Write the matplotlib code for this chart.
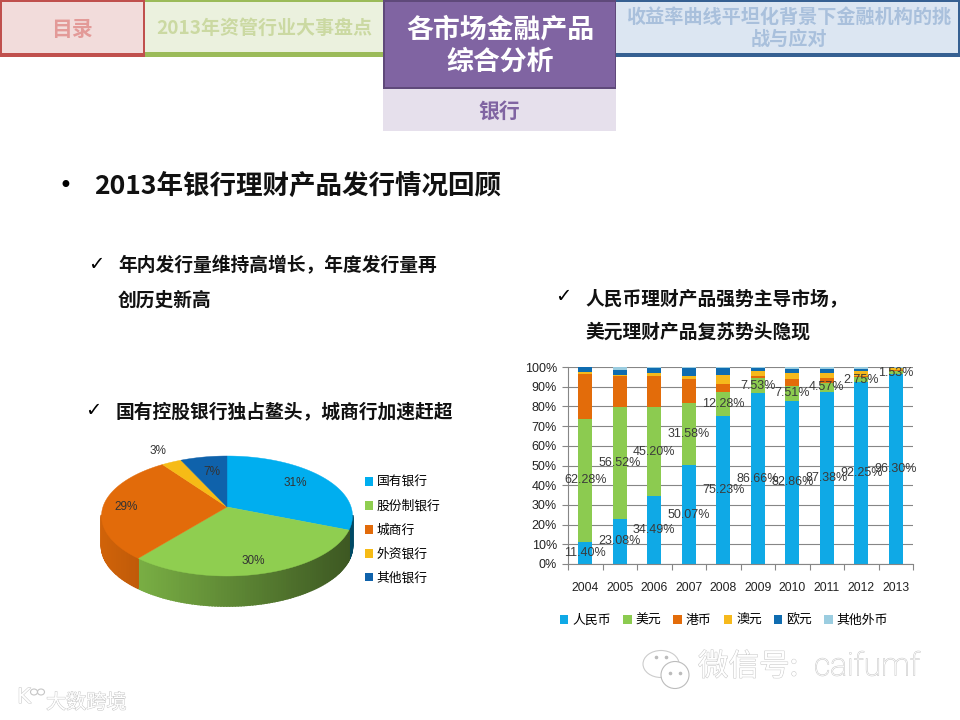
import numpy as np
import matplotlib
matplotlib.use("Agg")
import matplotlib.pyplot as plt
import matplotlib.patheffects as pe
from matplotlib.patches import Rectangle, Ellipse, Patch

CJK = ['Noto Sans CJK SC', 'DejaVu Sans']
plt.rcParams['font.family'] = CJK

W, H = 960, 720

# bar chart data
years = ['2004', '2005', '2006', '2007', '2008', '2009', '2010', '2011', '2012', '2013']
currencies = ['人民币', '美元', '港币', '澳元', '欧元', '其他外币']
rmb = [11.40, 23.08, 34.49, 50.07, 75.23, 86.66, 82.86, 87.38, 92.25, 96.30]
usd = [62.28, 56.52, 45.20, 31.58, 12.28, 7.53, 7.51, 4.57, 2.75, 1.53]
hkd = [22.8, 15.6, 15.8, 12.2, 3.9, 1.0, 3.4, 2.5, 0.3, 0.9]
aud = [0.8, 0.9, 1.4, 1.4, 4.6, 3.0, 3.4, 2.5, 2.5, 0.6]
eur = [2.7, 2.4, 2.6, 4.0, 3.4, 1.2, 1.6, 2.0, 1.2, 0.3]
other = [0.0, 1.5, 0.5, 0.8, 0.5, 0.6, 1.3, 1.0, 1.0, 0.4]
bar_colors = ['#0fa9e6', '#8ccb50', '#e36c0a', '#f6b91c', '#0f6cb0', '#9bcde0']

# pie data
banks = ['国有银行', '股份制银行', '城商行', '外资银行', '其他银行']
shares = [31, 30, 29, 3, 7]
pie_colors = ['#00aeef', '#8fce50', '#e26b0a', '#f6bb16', '#0f62ab']
pie_label_px = [(295, 483), (253, 561), (126, 507), (158, 451), (212, 472)]


def box(x0, y0, x1, y1):
    # pixels from the top left -> figure fraction
    return [x0 / W, 1 - y1 / H, (x1 - x0) / W, (y1 - y0) / H]


def shade(color, f):
    return tuple(np.array(matplotlib.colors.to_rgb(color)) * f)


fig = plt.figure(figsize=(9.6, 7.2), dpi=100, facecolor='white')

# page layer in pixel coordinates
page = fig.add_axes([0, 0, 1, 1])
page.set_xlim(0, W)
page.set_ylim(H, 0)
page.axis('off')


def rect(x0, y0, x1, y1, color):
    page.add_patch(Rectangle((x0, y0), x1 - x0, y1 - y0, facecolor=color, edgecolor='none'))


# header tabs
rect(0, 0, 145, 57, '#c0504d')
rect(2, 2, 143, 53, '#f2dcdb')
rect(145, 0, 383, 57, '#9bbb59')
rect(145, 2, 383, 52, '#ebf1de')
rect(616, 0, 960, 57, '#366092')
rect(616, 2, 958, 53, '#dce6f2')
rect(383, 0, 616, 89, '#5f497a')
rect(385, 2, 615, 87, '#8064a2')
rect(383, 89, 616, 131, '#e6e0ec')

page.text(72, 29, '目录', color='#e39a98', fontsize=15, fontweight='bold', ha='center', va='center')
page.text(264, 28, '2013年资管行业大事盘点', color='#cbd9a2', fontsize=13.7, fontweight='bold', ha='center', va='center')
page.text(500, 30, '各市场金融产品', color='white', fontsize=19.4, fontweight='bold', ha='center', va='center')
page.text(500, 62, '综合分析', color='white', fontsize=19.4, fontweight='bold', ha='center', va='center')
page.text(499, 111, '银行', color='#8064a2', fontsize=15, fontweight='bold', ha='center', va='center')
page.text(789, 17, '收益率曲线平坦化背景下金融机构的挑', color='#a9c0dc', fontsize=13.8, fontweight='bold', ha='center', va='center')
page.text(789, 39, '战与应对', color='#a9c0dc', fontsize=13.8, fontweight='bold', ha='center', va='center')

# slide text
page.text(65, 186, '•', color='black', fontsize=17, ha='center', va='center', family='DejaVu Sans')
page.text(94, 186, '2013年银行理财产品发行情况回顾', color='#111111', fontsize=19.1, fontweight='bold', va='center')

checks = [
    (96, 265, 118, '年内发行量维持高增长，年度发行量再'),
    (563, 298, 585, '人民币理财产品强势主导市场，'),
    (93, 412, 116, '国有控股银行独占鳌头，城商行加速赶超'),
]
for cx, cy, tx, label in checks:
    page.text(cx, cy - 1, '✓', color='black', fontsize=14, fontweight='bold', ha='center', va='center', family='DejaVu Sans')
    page.text(tx, cy + 1, label, color='#111111', fontsize=13.5, fontweight='bold', va='center')
page.text(118, 300, '创历史新高', color='#111111', fontsize=13.5, fontweight='bold', va='center')
page.text(585, 332, '美元理财产品复苏势头隐现', color='#111111', fontsize=13.5, fontweight='bold', va='center')

# watermarks
outline = [pe.withStroke(linewidth=0.7, foreground='#c6c6c6')]
page.text(698, 667, '微信号:', color='white', fontsize=22, va='center', path_effects=outline, fontweight='light')
page.text(814, 667, 'caifumf', color='white', fontsize=23, va='center', path_effects=outline,
          family='Roboto', fontweight='light')
page.add_patch(Ellipse((661, 664), 36, 27, facecolor='none', edgecolor='#cccccc', lw=0.8))
page.add_patch(Ellipse((675, 675), 28, 27, facecolor='white', edgecolor='#bcbcbc', lw=0.8))
page.plot([656, 666, 670, 680], [657, 657, 673, 673], ls='none', marker='o', ms=1.6, color='#bcbcbc')
page.text(46, 703, '大数跨境', color='white', fontsize=14.5, va='center', path_effects=outline)
page.text(24, 697, 'K', color='white', fontsize=15, ha='center', va='center', path_effects=outline, family='DejaVu Sans')
page.add_patch(Ellipse((34, 692), 7, 6, facecolor='none', edgecolor='#c6c6c6', lw=0.8))
page.add_patch(Ellipse((41, 692), 7, 6, facecolor='none', edgecolor='#c6c6c6', lw=0.8))

# 3d looking pie
pie = fig.add_axes(box(101.5, 456, 352.5, 606))
pie.set_xlim(-1, 1)
pie.set_ylim(-1.5, 1)
pie.axis('off')
depth = 0.5
apex_y = 0.15
edges = np.concatenate([[0], np.cumsum(shares)]) / sum(shares) * 2 * np.pi


def rim(a):
    # ray from the off centre apex out to the unit circle
    dx, dy = np.sin(a), np.cos(a)
    b = apex_y * dy
    t = -b + np.sqrt(b ** 2 + 1 - apex_y ** 2)
    return t * dx, apex_y + t * dy


for i, color in enumerate(pie_colors):
    a0, a1 = edges[i], edges[i + 1]
    n = max(int((a1 - a0) / 0.02), 2)
    steps = np.linspace(a0, a1, n)
    rx, ry = rim(steps)
    # side wall, front half only
    for j in range(n - 1):
        if (ry[j] + ry[j + 1]) / 2 > 0.02:
            continue
        f = np.interp((rx[j] + rx[j + 1]) / 2, [-1, 1], [0.92, 0.42])
        c = shade(color, f)
        pie.fill([rx[j], rx[j + 1], rx[j + 1], rx[j]],
                 [ry[j], ry[j + 1], ry[j + 1] - depth, ry[j] - depth], color=c, lw=1.2, zorder=1, clip_on=False)
    pie.fill(np.r_[0, rx], np.r_[apex_y, ry], color=color, lw=0.3, zorder=2, clip_on=False)

for (px, py), value in zip(pie_label_px, shares):
    page.text(px, py, f'{value}%', color='#333333', fontsize=8.5, ha='center', va='center',
              family='Liberation Sans', zorder=5)
page.set_zorder(3)
page.patch.set_alpha(0)

pie_handles = [Patch(facecolor=c, edgecolor='none') for c in pie_colors]
page.legend(pie_handles, banks, loc='upper left', bbox_to_anchor=(364.5 / W, 1 - 476 / H), frameon=False,
            fontsize=9.2, handlelength=0.7, handleheight=0.7, handletextpad=0.25, labelspacing=0.85,
            borderpad=0, borderaxespad=0)

# stacked bars
ax = fig.add_axes(box(568, 367, 913, 564))
ax.set_axisbelow(True)
x = np.arange(len(years))
series = [rmb, usd, hkd, aud, eur, other]
bottom = np.zeros(len(years))
for values, name, color in zip(series, currencies, bar_colors):
    ax.bar(x, values, 0.4, bottom=bottom, color=color, label=name)
    bottom += np.array(values)

base = np.zeros(len(years))
for values in series[:2]:
    for xi, b, v in zip(x, base, values):
        ax.text(xi, b + v / 2, f'{v:.2f}%', ha='center', va='center', fontsize=9,
                family='Liberation Sans', color='#3a3a3a', zorder=6)
    base += np.array(values)

ax.set_xlim(-0.5, 9.5)
ax.set_ylim(0, 100)
ax.set_yticks(np.arange(0, 101, 10))
ax.set_yticklabels([f'{v}%' for v in range(0, 101, 10)], family='Liberation Sans', fontsize=9, color='#222222')
ax.set_xticks(np.arange(-0.5, 10, 1))
ax.set_xticklabels([])
ax.set_xticks(x, years, minor=True, family='Liberation Sans', fontsize=8.7, color='#222222')
ax.tick_params(axis='x', which='minor', length=0, pad=13)
ax.tick_params(axis='x', which='major', length=4, width=0.8, color='#868686')
ax.tick_params(axis='y', length=4, width=0.8, color='#868686', pad=4)
ax.grid(axis='y', color='#868686', lw=0.8)
for side in ['top', 'right']:
    ax.spines[side].set_visible(False)
for side in ['left', 'bottom']:
    ax.spines[side].set_color('#868686')
    ax.spines[side].set_linewidth(0.8)

ax.legend(loc='upper left', bbox_to_anchor=(560 / W, 1 - 614 / H), bbox_transform=fig.transFigure, ncol=6,
          frameon=False, fontsize=9.3, handlelength=0.65, handleheight=0.65, handletextpad=0.3,
          columnspacing=0.95, borderpad=0, borderaxespad=0)

fig.savefig('out.png', dpi=100, facecolor='white')
